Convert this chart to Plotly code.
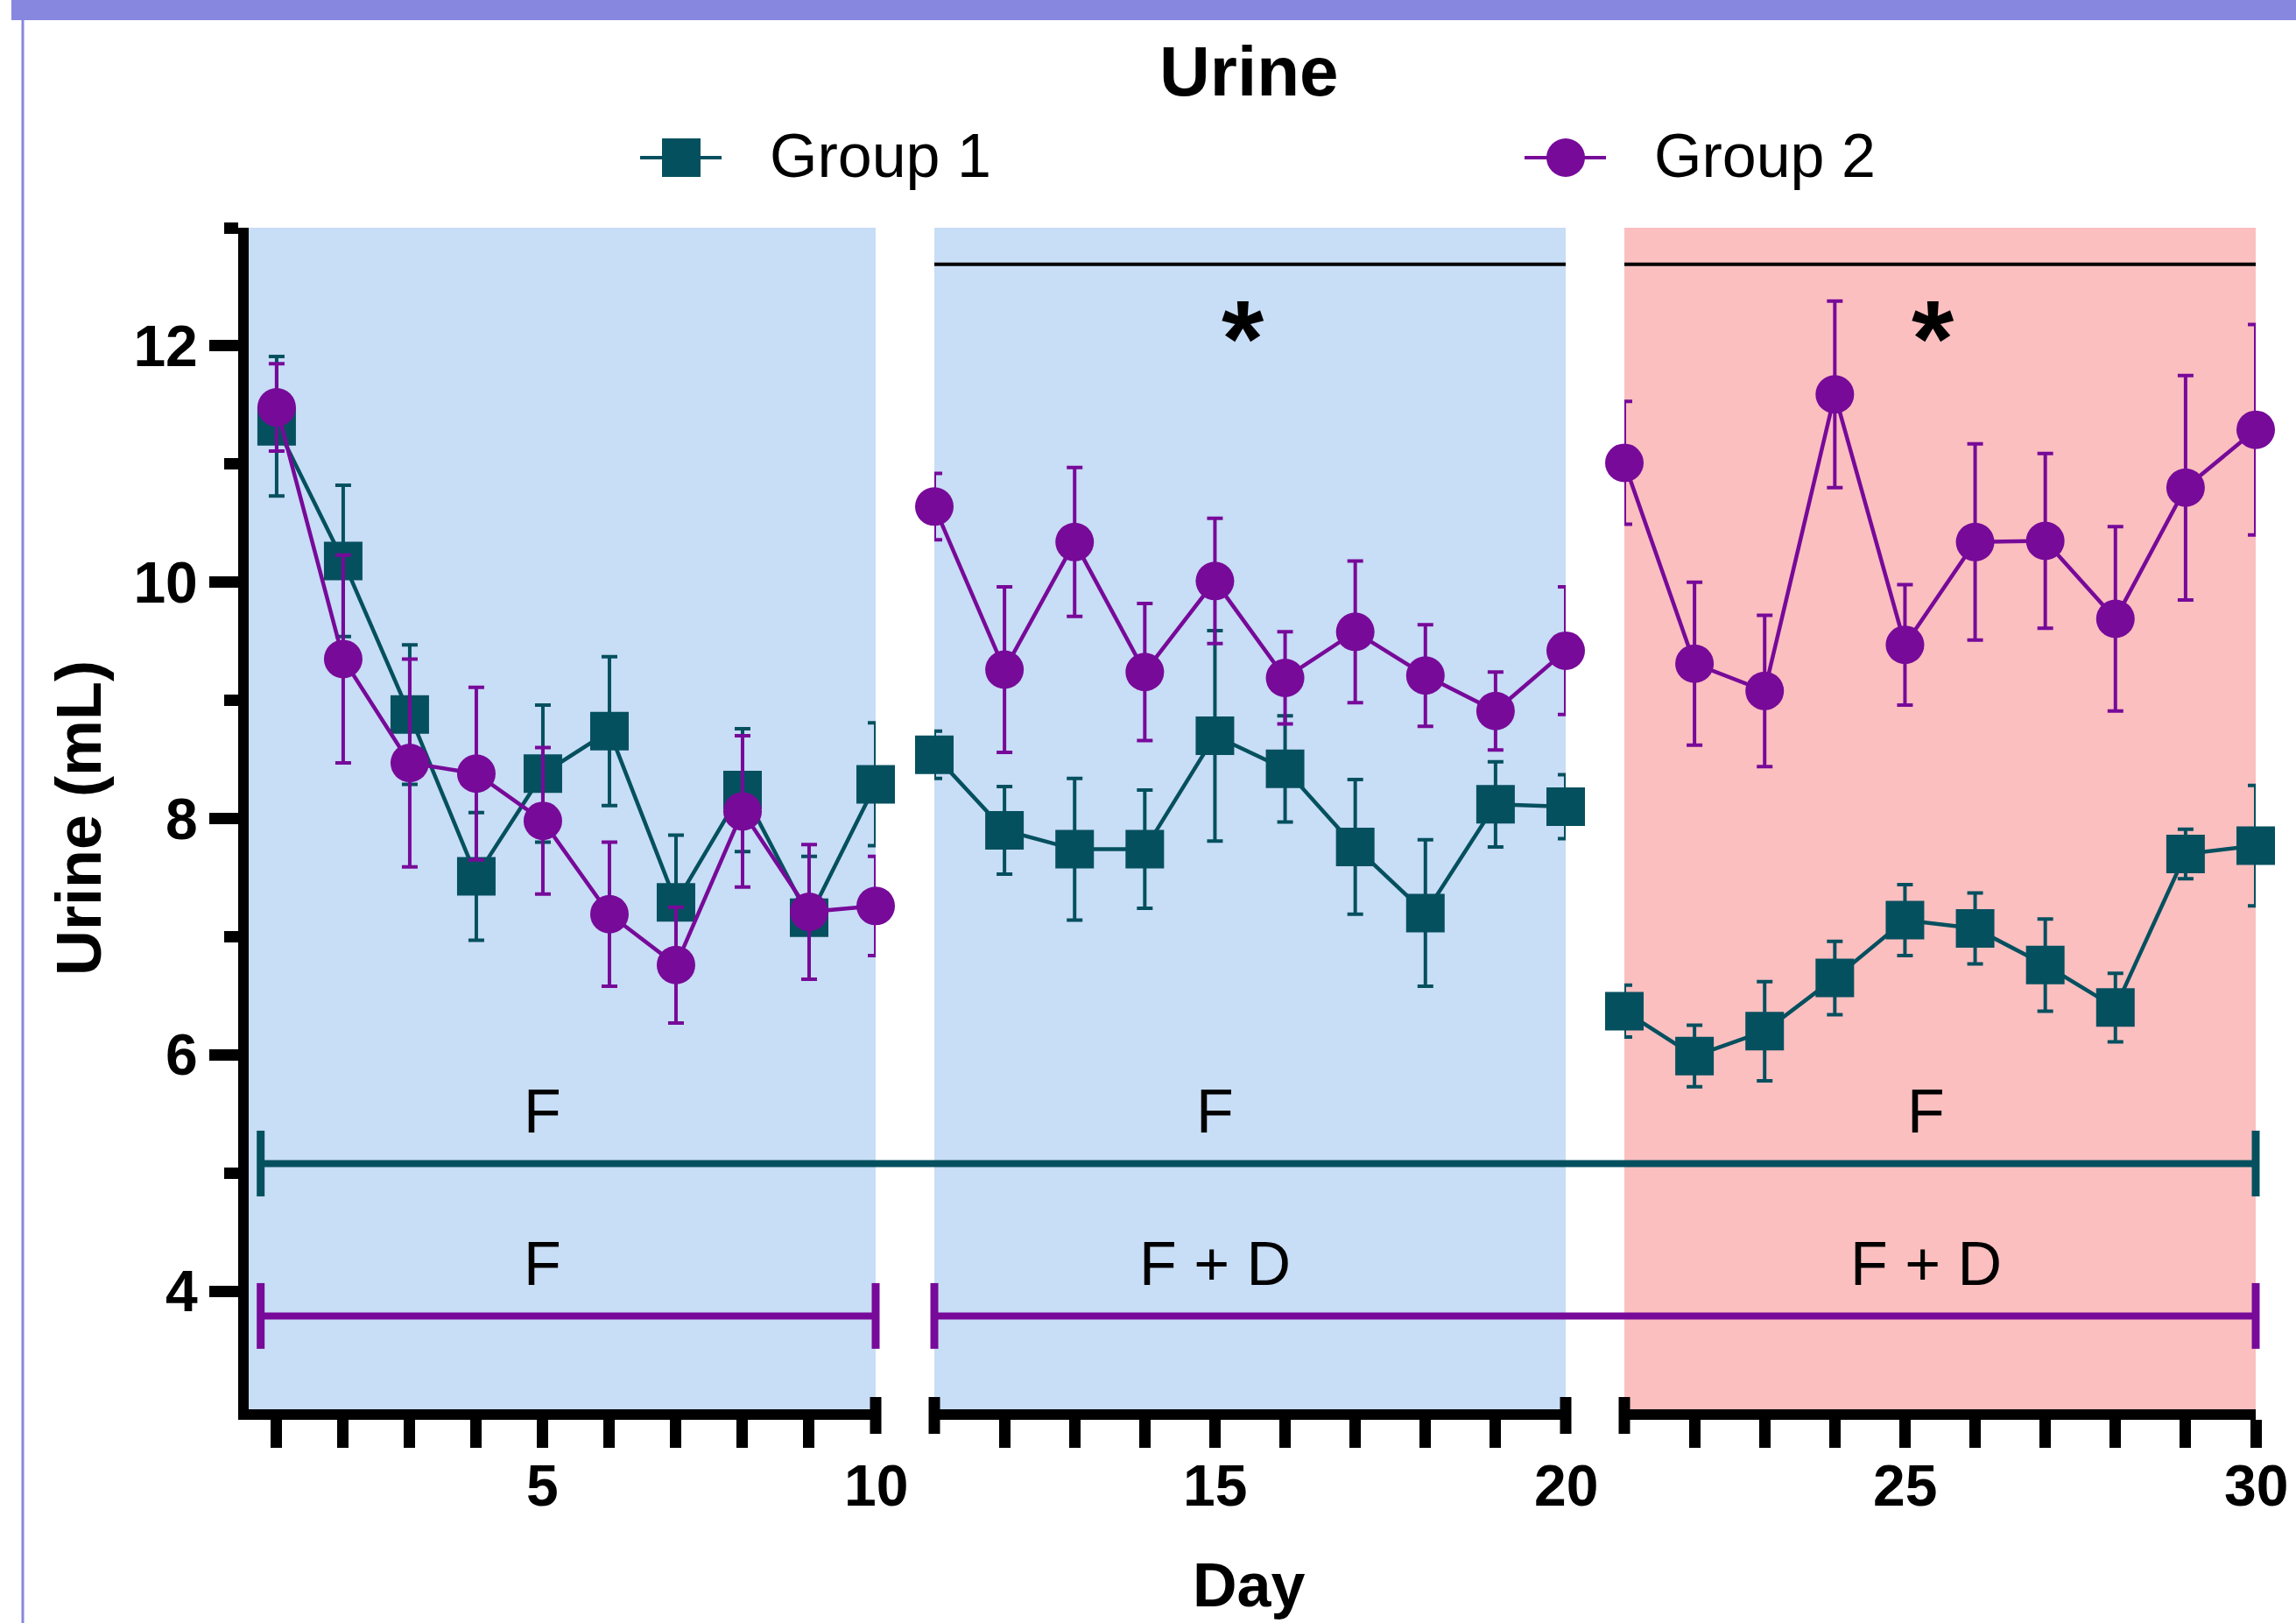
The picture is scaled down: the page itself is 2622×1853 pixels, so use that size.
import plotly.graph_objects as go

# ---------------- data ----------------
DAYS = list(range(1, 31))
G1_MEAN = [11.32, 10.18, 8.88, 7.51, 8.38, 8.74, 7.29, 8.24, 7.16, 8.29,
           8.54, 7.90, 7.74, 7.74, 8.70, 8.42, 7.76, 7.20, 8.12, 8.10,
           6.37, 5.99, 6.20, 6.65, 7.14, 7.07, 6.76, 6.40, 7.70, 7.77]
G1_SEM = [0.59, 0.64, 0.59, 0.54, 0.58, 0.63, 0.57, 0.52, 0.52, 0.52,
          0.20, 0.37, 0.60, 0.50, 0.89, 0.45, 0.57, 0.62, 0.36, 0.27,
          0.22, 0.26, 0.42, 0.31, 0.30, 0.30, 0.39, 0.29, 0.21, 0.51]
G2_MEAN = [11.48, 9.35, 8.47, 8.38, 7.98, 7.19, 6.76, 8.06, 7.21, 7.26,
           10.64, 9.26, 10.34, 9.24, 10.01, 9.19, 9.58, 9.21, 8.91, 9.42,
           11.01, 9.31, 9.08, 11.59, 9.47, 10.34, 10.35, 9.69, 10.80, 11.29]
G2_SEM = [0.37, 0.88, 0.88, 0.73, 0.62, 0.61, 0.49, 0.64, 0.57, 0.42,
          0.28, 0.70, 0.63, 0.58, 0.53, 0.39, 0.60, 0.43, 0.33, 0.54,
          0.52, 0.69, 0.64, 0.79, 0.51, 0.83, 0.74, 0.78, 0.95, 0.89]
SERIES_NAMES = ["Group 1", "Group 2"]
SEGMENTS = [(1, 10), (11, 20), (21, 30)]          # day blocks
Y_TICKS = [4, 6, 8, 10, 12]
Y_MINOR = [5, 7, 9, 11, 13]
X_LABELS = [5, 10, 15, 20, 25, 30]
CAP_DAYS = [10, 11, 20, 21]                        # segment ends drawn as caps
BRACKET_G1_LABELS = ["F", "F", "F"]
BRACKET_G2_LABELS = ["F", "F + D", "F + D"]
BRACKET_LABEL_DAYS = [5, 15, 25.3]
BRACKET_G1_Y, BRACKET_G1_LABEL_Y = 5.08, 5.52
BRACKET_G2_Y, BRACKET_G2_LABEL_Y = 3.79, 4.23
BRACKET_START_DAY = 0.76
SIG_Y, STAR_Y = 12.69, 12.06
STAR_DAYS = [15.4, 25.4]

# ---------------- styling ----------------
TEAL = "#05505F"
PURPLE = "#770A99"
BG_COLORS = ["#C8DDF6", "#C8DDF6", "#FBBFC0"]
FRAME = "#8787E0"
FONT = "Liberation Sans, Arial, sans-serif"

FIG_W, FIG_H = 2622, 1853
M_L, M_R, M_T, M_B = 284, 46, 260, 244
PW = FIG_W - M_L - M_R
PH = FIG_H - M_T - M_B


def px(x):
    return (x - M_L) / PW


def py(y):
    return (FIG_H - M_B - y) / PH


SEG_PX = [(284, 1000), (1067, 1788), (1855, 2576)]
DOMAINS = [[px(a), px(b)] for a, b in SEG_PX]
X_RANGES = [[0.58, 10], [11, 20], [21, 30]]
XNAMES = ["x", "x2", "x3"]


def seg_of(day):
    for k, (a, b) in enumerate(SEGMENTS):
        if day <= b + 0.5:
            return k
    return len(SEGMENTS) - 1


def day_paper(day, k=None):
    if k is None:
        k = seg_of(day)
    lo, hi = X_RANGES[k]
    d0, d1 = DOMAINS[k]
    return d0 + (day - lo) / (hi - lo) * (d1 - d0)


fig = go.Figure()

# ---------------- data traces ----------------
for k, (a, b) in enumerate(SEGMENTS):
    idx = [i for i, d in enumerate(DAYS) if a <= d <= b]
    for mean, sem, col, sym, name in [
        (G1_MEAN, G1_SEM, TEAL, "square", SERIES_NAMES[0]),
        (G2_MEAN, G2_SEM, PURPLE, "circle", SERIES_NAMES[1]),
    ]:
        fig.add_trace(go.Scatter(
            x=[DAYS[i] for i in idx], y=[mean[i] for i in idx],
            mode="lines+markers", name=name, showlegend=False,
            xaxis=XNAMES[k], yaxis="y",
            line=dict(color=col, width=4.5),
            marker=dict(symbol=sym, size=44, color=col, line=dict(width=0)),
            error_y=dict(type="data", array=[sem[i] for i in idx], visible=True,
                         color=col, thickness=4, width=9),
            cliponaxis=False,
        ))

shapes = []
annotations = []

# segment backgrounds
for k in range(3):
    shapes.append(dict(type="rect", xref=f"{XNAMES[k]} domain", yref="y domain",
                       x0=0, x1=1, y0=0, y1=1, fillcolor=BG_COLORS[k],
                       line=dict(width=0), layer="below"))

# x-axis segment end caps
for d in CAP_DAYS:
    xp = day_paper(d)
    shapes.append(dict(type="line", xref="paper", yref="paper", x0=xp, x1=xp,
                       y0=py(1595), y1=py(1637), line=dict(color="black", width=13)))


# brackets (group 1: one long, group 2: two pieces)
def bracket(x0, x1, y, col):
    shapes.append(dict(type="line", xref="paper", yref="y", x0=x0, x1=x1, y0=y, y1=y,
                       line=dict(color=col, width=8)))
    for xx in (x0, x1):
        shapes.append(dict(type="line", xref="paper", yref="y", x0=xx, x1=xx,
                           y0=y - 0.278, y1=y + 0.278, line=dict(color=col, width=9)))


bracket(day_paper(BRACKET_START_DAY, 0), day_paper(30, 2), BRACKET_G1_Y, TEAL)
bracket(day_paper(BRACKET_START_DAY, 0), day_paper(10, 0), BRACKET_G2_Y, PURPLE)
bracket(day_paper(11, 1), day_paper(30, 2), BRACKET_G2_Y, PURPLE)

for d, t1, t2 in zip(BRACKET_LABEL_DAYS, BRACKET_G1_LABELS, BRACKET_G2_LABELS):
    for t, yv in ((t1, BRACKET_G1_LABEL_Y), (t2, BRACKET_G2_LABEL_Y)):
        annotations.append(dict(text=t, xref="paper", yref="y", x=day_paper(d), y=yv,
                                xanchor="center", yanchor="middle", showarrow=False,
                                font=dict(family=FONT, size=70, color="black")))

# significance lines and stars
for k in (1, 2):
    lo, hi = SEGMENTS[k]
    shapes.append(dict(type="line", xref=XNAMES[k], yref="y", x0=lo, x1=hi,
                       y0=SIG_Y, y1=SIG_Y, line=dict(color="black", width=4)))
for d in STAR_DAYS:
    annotations.append(dict(text="<b>*</b>", xref="paper", yref="y", x=day_paper(d), y=STAR_Y,
                            xanchor="center", yanchor="middle", showarrow=False,
                            font=dict(family=FONT, size=124, color="black")))

# x tick labels
for v in X_LABELS:
    annotations.append(dict(text=f"<b>{v}</b>", xref="paper", yref="paper",
                            x=day_paper(v), y=py(1696), xanchor="center", yanchor="middle",
                            showarrow=False, font=dict(family=FONT, size=66, color="black")))

# titles
annotations.append(dict(text="<b>Urine</b>", xref="paper", yref="paper", x=px(1426), y=py(81),
                        xanchor="center", yanchor="middle", showarrow=False,
                        font=dict(family=FONT, size=80, color="black")))
annotations.append(dict(text="<b>Day</b>", xref="paper", yref="paper", x=px(1426), y=py(1810),
                        xanchor="center", yanchor="middle", showarrow=False,
                        font=dict(family=FONT, size=70, color="black")))
annotations.append(dict(text="<b>Urine (mL)</b>", xref="paper", yref="paper", x=px(90), y=py(934),
                        xanchor="center", yanchor="middle", showarrow=False, textangle=-90,
                        font=dict(family=FONT, size=72, color="black")))

# custom legend
for name, col, sym, cx, tx in [(SERIES_NAMES[0], TEAL, "rect", 778, 877),
                               (SERIES_NAMES[1], PURPLE, "circle", 1788, 1887)]:
    shapes.append(dict(type="line", xref="paper", yref="paper", x0=px(cx - 47), x1=px(cx + 46),
                       y0=py(180), y1=py(180), line=dict(color=col, width=4)))
    shapes.append(dict(type=sym, xref="paper", yref="paper", x0=px(cx - 22), x1=px(cx + 22),
                       y0=py(158), y1=py(202), fillcolor=col, line=dict(width=0)))
    annotations.append(dict(text=name, xref="paper", yref="paper", x=px(tx), y=py(178),
                            xanchor="left", yanchor="middle", showarrow=False,
                            font=dict(family=FONT, size=70, color="black")))

# frame decorations (top band and left rule)
shapes.append(dict(type="rect", xref="paper", yref="paper", x0=px(13), x1=px(FIG_W + 5),
                   y0=py(0), y1=py(23), fillcolor=FRAME, line=dict(width=0)))
shapes.append(dict(type="line", xref="paper", yref="paper", x0=px(26), x1=px(26),
                   y0=py(23), y1=py(FIG_H + 5), line=dict(color=FRAME, width=3)))

axis_common = dict(showline=True, linewidth=12, linecolor="black", showgrid=False,
                   zeroline=False, ticks="outside", tickcolor="black")

layout_axes = {}
for k, (a, b) in enumerate(SEGMENTS):
    key = "xaxis" if k == 0 else f"xaxis{k + 1}"
    tv = [d for d in DAYS if a <= d <= b and d not in CAP_DAYS]
    layout_axes[key] = dict(axis_common, domain=DOMAINS[k], range=X_RANGES[k], anchor="y",
                            tickmode="array", tickvals=tv, ticklen=32, tickwidth=13,
                            showticklabels=False)

fig.update_layout(
    width=FIG_W, height=FIG_H,
    margin=dict(l=M_L, r=M_R, t=M_T, b=M_B, pad=0),
    paper_bgcolor="white", plot_bgcolor="white",
    showlegend=False,
    yaxis=dict(axis_common, range=[3, 13], anchor="x", tickmode="array",
               tickvals=Y_TICKS, ticktext=[str(v) for v in Y_TICKS],
               ticklen=33, tickwidth=13,
               tickfont=dict(family=FONT, size=66, color="black", weight="bold"),
               minor=dict(tickmode="array", tickvals=Y_MINOR, ticklen=16, tickwidth=13,
                          tickcolor="black", ticks="outside")),
    shapes=shapes, annotations=annotations,
    **layout_axes,
)

fig.write_html(
    "out.html",
    config={"displayModeBar": False, "staticPlot": True},
    post_script="document.body.style.margin='0px';document.body.style.overflow='hidden';",
)
